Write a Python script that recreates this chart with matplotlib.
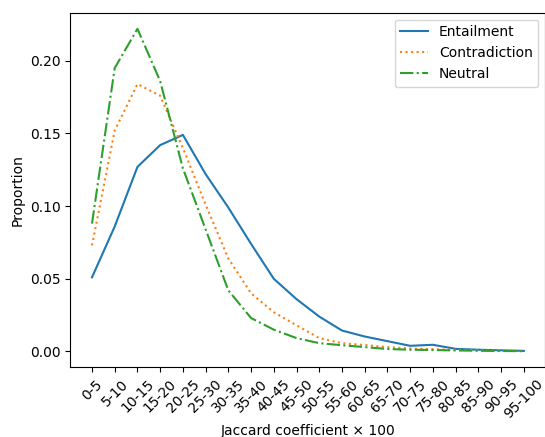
import matplotlib
matplotlib.use("Agg")
import matplotlib.pyplot as plt

categories = ["0-5", "5-10", "10-15", "15-20", "20-25", "25-30", "30-35", "35-40",
              "40-45", "45-50", "50-55", "55-60", "60-65", "65-70", "70-75", "75-80",
              "80-85", "85-90", "90-95", "95-100"]
entailment = [0.051, 0.086, 0.127, 0.142, 0.149, 0.122, 0.099, 0.074, 0.050, 0.036,
              0.024, 0.0144, 0.0103, 0.0071, 0.0039, 0.0046, 0.0018, 0.0012, 0.0008, 0.0004]
contradiction = [0.073, 0.152, 0.184, 0.176, 0.140, 0.101, 0.064, 0.040, 0.027, 0.018,
                 0.0092, 0.0057, 0.0044, 0.003, 0.002, 0.0015, 0.0012, 0.0008, 0.0005, 0.0003]
neutral = [0.088, 0.195, 0.222, 0.186, 0.126, 0.084, 0.042, 0.023, 0.015, 0.0092,
           0.0057, 0.0043, 0.003, 0.0017, 0.0012, 0.001, 0.0007, 0.0005, 0.0003, 0.0002]

fig = plt.figure(figsize=(5.45, 4.37), dpi=100)
ax = fig.add_axes([70.4 / 545, (437 - 367.3) / 437, 475 / 545, 354.6 / 437])
x = list(range(len(categories)))
ax.plot(x, entailment, '-', color='#1f77b4', label='Entailment')
ax.plot(x, contradiction, ':', color='#ff7f0e', label='Contradiction')
ax.plot(x, neutral, '-.', color='#2ca02c', label='Neutral')
ax.set_xticks(x)
ax.set_xticklabels(categories, rotation=45)
ax.set_yticks([0.0, 0.05, 0.10, 0.15, 0.20])
ax.set_xlabel("Jaccard coefficient × 100", labelpad=2)
ax.set_ylabel("Proportion")
ax.legend(loc='upper right')
fig.savefig("out.png", dpi=100)
